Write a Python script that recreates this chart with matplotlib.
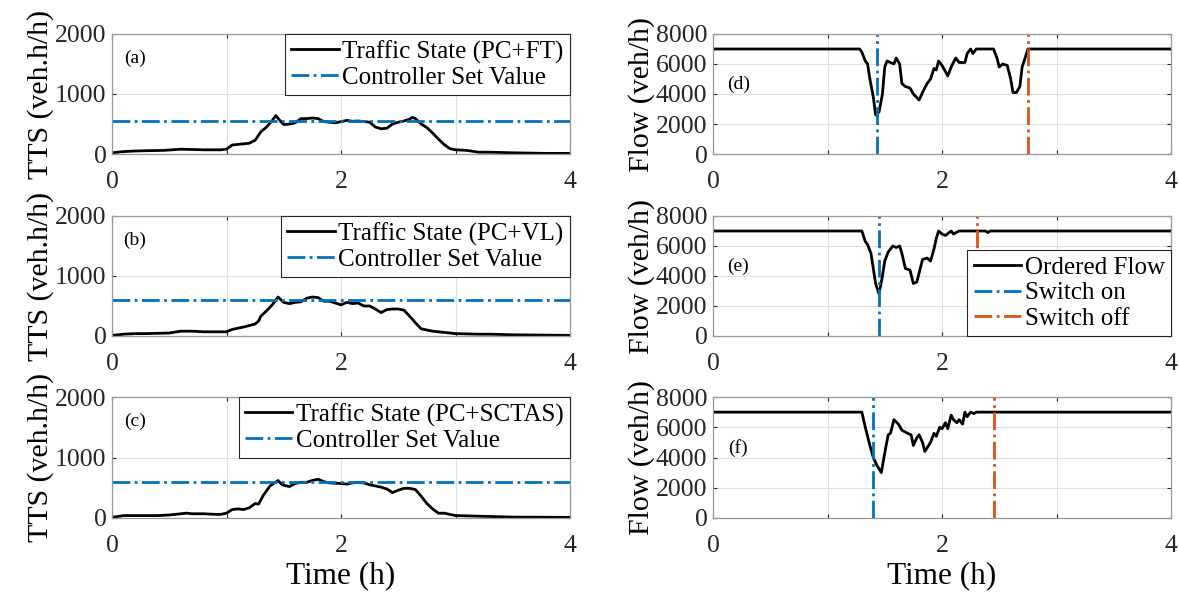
import matplotlib.pyplot as plt
import numpy as np

plt.rcParams['font.family'] = ['Liberation Serif', 'DejaVu Serif']
plt.rcParams['mathtext.fontset'] = 'stix'

# TTS curves (veh.h/h)
t_a = [0, 0.1, 0.2, 0.3, 0.45, 0.6, 0.7, 0.8, 0.95, 1.0, 1.05, 1.2, 1.25, 1.3, 1.35, 1.4, 1.43, 1.47,
       1.5, 1.55, 1.6, 1.65, 1.7, 1.75, 1.8, 1.85, 1.9, 1.95, 2.0, 2.05, 2.1, 2.15, 2.2, 2.25, 2.3,
       2.35, 2.4, 2.45, 2.5, 2.55, 2.6, 2.62, 2.65, 2.7, 2.75, 2.8, 2.85, 2.9, 2.95, 3.0, 3.1, 3.2,
       3.3, 3.5, 3.8, 4.0]
tts_a = [20, 40, 50, 55, 60, 80, 75, 70, 70, 80, 150, 180, 230, 370, 450, 560, 640, 550,
         490, 500, 520, 590, 590, 600, 590, 540, 530, 520, 540, 560, 545, 550, 540, 530, 450,
         420, 430, 500, 530, 550, 580, 610, 590, 500, 440, 350, 250, 160, 90, 70, 60, 30,
         30, 20, 10, 10]

t_b = [0, 0.1, 0.2, 0.3, 0.5, 0.6, 0.7, 0.8, 0.9, 1.0, 1.05, 1.15, 1.25, 1.28, 1.3, 1.35, 1.4, 1.45,
       1.5, 1.55, 1.6, 1.65, 1.7, 1.75, 1.8, 1.85, 1.9, 1.95, 2.0, 2.05, 2.1, 2.15, 2.2, 2.25, 2.3,
       2.35, 2.4, 2.45, 2.5, 2.55, 2.6, 2.65, 2.7, 2.75, 2.8, 2.9, 3.0, 3.2, 3.3, 3.5, 4.0]
tts_b = [10, 30, 40, 40, 50, 80, 80, 70, 70, 70, 110, 150, 200, 250, 330, 420, 520, 650,
         560, 540, 560, 570, 630, 650, 640, 580, 580, 550, 520, 560, 540, 550, 500, 500, 450,
         390, 440, 450, 450, 430, 330, 220, 120, 100, 80, 60, 40, 30, 30, 20, 10]

t_c = [0, 0.1, 0.2, 0.4, 0.5, 0.6, 0.65, 0.7, 0.8, 0.9, 0.95, 1.0, 1.05, 1.1, 1.15, 1.2, 1.25, 1.28,
       1.32, 1.38, 1.42, 1.45, 1.48, 1.5, 1.55, 1.6, 1.65, 1.7, 1.75, 1.8, 1.85, 1.9, 2.0, 2.05,
       2.1, 2.15, 2.2, 2.25, 2.3, 2.35, 2.4, 2.45, 2.5, 2.55, 2.6, 2.65, 2.7, 2.75, 2.8, 2.85,
       2.9, 3.0, 3.2, 3.5, 4.0]
tts_c = [10, 40, 40, 40, 50, 70, 80, 70, 70, 60, 60, 80, 140, 150, 140, 170, 240, 230,
         370, 530, 580, 620, 560, 540, 520, 570, 590, 590, 620, 640, 600, 580, 570, 560,
         580, 590, 580, 550, 530, 510, 480, 420, 460, 490, 490, 470, 360, 240, 150, 80,
         80, 40, 30, 15, 10]

set_a = 550
set_b = 600
set_c = 600

# ordered flow (veh/h)
t_d = [0, 1.28, 1.3, 1.33, 1.35, 1.37, 1.4, 1.42, 1.45, 1.48, 1.5, 1.52, 1.55, 1.58, 1.6, 1.63,
       1.65, 1.68, 1.72, 1.75, 1.8, 1.83, 1.87, 1.9, 1.93, 1.95, 1.97, 2.0, 2.03, 2.05, 2.08,
       2.12, 2.15, 2.2, 2.22, 2.25, 2.27, 2.3, 2.45, 2.48, 2.5, 2.53, 2.57, 2.6, 2.62, 2.65,
       2.68, 2.7, 2.73, 2.75, 4.0]
flow_d = [7000, 7000, 6800, 6200, 6000, 5000, 3800, 2600, 2800, 4000, 5800, 6200, 6100, 6000,
          6400, 6000, 4700, 4500, 4400, 4000, 3600, 4100, 4700, 5000, 5700, 5600, 6200, 5900,
          5500, 5200, 5800, 6400, 6100, 6100, 6700, 7000, 6700, 7000, 7000, 6400, 5800, 6000,
          5900, 5000, 4100, 4100, 4500, 5800, 6500, 7000, 7000]

t_e = [0, 1.3, 1.33, 1.35, 1.38, 1.4, 1.42, 1.45, 1.48, 1.5, 1.53, 1.57, 1.6, 1.63, 1.65, 1.68,
       1.72, 1.75, 1.78, 1.8, 1.83, 1.87, 1.9, 1.93, 1.95, 1.97, 2.0, 2.03, 2.08, 2.1, 2.15,
       2.38, 2.4, 2.42, 4.0]
flow_e = [7000, 7000, 6300, 6100, 5500, 4500, 3500, 2800, 4000, 5000, 5600, 6000, 5900, 6000,
          5500, 4500, 4400, 3500, 3600, 4200, 5100, 5200, 5000, 5800, 6500, 7000, 6800, 6700,
          7000, 6800, 7000, 7000, 6900, 7000, 7000]

t_f = [0, 1.3, 1.33, 1.37, 1.4, 1.43, 1.47, 1.5, 1.53, 1.55, 1.58, 1.62, 1.65, 1.7, 1.73, 1.75,
       1.78, 1.8, 1.83, 1.85, 1.9, 1.93, 1.95, 1.98, 2.0, 2.03, 2.05, 2.08, 2.1, 2.13, 2.15,
       2.18, 2.2, 2.22, 2.25, 2.28, 2.3, 4.0]
flow_f = [7000, 7000, 6000, 4800, 4000, 3500, 3000, 4300, 5500, 5600, 6500, 6200, 5800, 5600,
          5500, 4800, 5300, 5500, 5000, 4400, 5000, 5600, 5400, 6000, 5900, 6300, 5900, 6800,
          6500, 6300, 6500, 6200, 7000, 6700, 7000, 6900, 7000, 7000]

switch_on = [1.43, 1.45, 1.40]
switch_off = [2.75, 2.31, 2.455]

tts_names = ['Traffic State (PC+FT)', 'Traffic State (PC+VL)', 'Traffic State (PC+SCTAS)']
left_tags = ['(a)', '(b)', '(c)']
right_tags = ['(d)', '(e)', '(f)']

blue = '#0072BD'
orange = '#D95319'
fs = 18.5    # tick labels
lfs = 18     # legend text

fig = plt.figure(figsize=(11.79, 5.98), dpi=100)

W, H = 1179, 598
row_px = [(34, 154), (216, 336), (397, 518)]
col_px = [(112, 570), (713, 1171)]


def make_ax(col, row):
    x0, x1 = col_px[col]
    y0, y1 = row_px[row]
    ax = fig.add_axes([x0 / W, 1 - y1 / H, (x1 - x0) / W, (y1 - y0) / H])
    ax.set_xlim(0, 4)
    ax.set_xticks([0, 1, 2, 3, 4])
    ax.set_xticklabels(['0', '', '2', '', '4'])
    ax.grid(True, color='0.88', lw=0.8)
    ax.set_axisbelow(True)
    ax.tick_params(direction='in', length=3, labelsize=fs, colors='0.15',
                   top=True, right=True)
    ax.tick_params(axis='x', pad=12)
    ax.tick_params(axis='y', pad=4)
    for s in ax.spines.values():
        s.set_color('0.6')
        s.set_linewidth(0.9)
    return ax


leg_kw = dict(fontsize=lfs, frameon=True, fancybox=False, framealpha=1,
              edgecolor='0.15', borderpad=0.25, handletextpad=0.15,
              handlelength=1.9, labelspacing=0.12, borderaxespad=0.0)

tts_t = [t_a, t_b, t_c]
tts_v = [tts_a, tts_b, tts_c]
sets = [set_a, set_b, set_c]

for i in range(3):
    ax = make_ax(0, i)
    ax.plot(tts_t[i], tts_v[i], color='black', lw=2, label=tts_names[i])
    ax.axhline(sets[i], color=blue, ls='-.', lw=2, label='Controller Set Value')
    ax.set_ylim(0, 2000)
    ax.set_yticks([0, 1000, 2000])
    ax.set_ylabel('TTS (veh.h/h)', fontsize=21.5, labelpad=1)
    ax.text(0.05, 0.8, left_tags[i], transform=ax.transAxes, fontsize=14,
            ha='center', va='center')
    lg = ax.legend(loc='upper right', **leg_kw)
    lg.get_frame().set_linewidth(0.8)
    if i == 2:
        ax.set_xlabel('Time (h)', fontsize=22.5, labelpad=3)

flow_t = [t_d, t_e, t_f]
flow_v = [flow_d, flow_e, flow_f]

for i in range(3):
    ax = make_ax(1, i)
    ax.plot(flow_t[i], flow_v[i], color='black', lw=2, label='Ordered Flow')
    ax.axvline(switch_on[i], color=blue, ls='-.', lw=2, label='Switch on')
    ax.axvline(switch_off[i], color=orange, ls='-.', lw=2, label='Switch off')
    ax.set_ylim(0, 8000)
    ax.set_yticks([0, 2000, 4000, 6000, 8000])
    ax.set_ylabel('Flow (veh/h)', fontsize=21.5, labelpad=1)
    ax.text(0.055, 0.58, right_tags[i], transform=ax.transAxes, fontsize=14,
            ha='center', va='center')
    if i == 1:
        lg = ax.legend(loc='lower right', **leg_kw)
        lg.get_frame().set_linewidth(0.8)
    if i == 2:
        ax.set_xlabel('Time (h)', fontsize=22.5, labelpad=3)

fig.savefig('out.png', dpi=100)
